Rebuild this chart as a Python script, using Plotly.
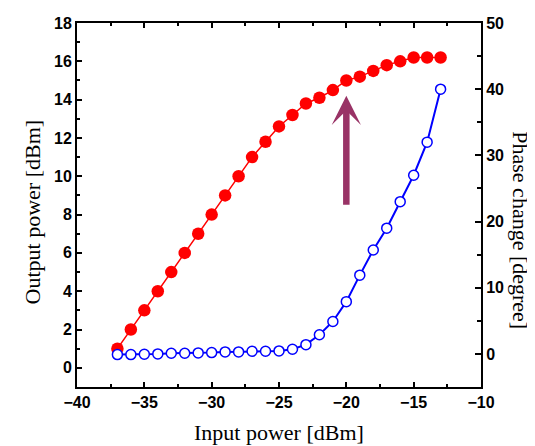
import plotly.graph_objects as go

input_power = [-37, -36, -35, -34, -33, -32, -31, -30, -29, -28, -27, -26, -25,
               -24, -23, -22, -21, -20, -19, -18, -17, -16, -15, -14, -13]
output_power = [1.0, 2.0, 3.0, 4.0, 5.0, 6.0, 7.0, 8.0, 9.0, 10.0, 11.0, 11.8, 12.6,
                13.2, 13.8, 14.1, 14.5, 15.0, 15.2, 15.5, 15.8, 16.0, 16.2, 16.2, 16.2]
phase_change = [-0.1, -0.1, -0.05, 0.0, 0.1, 0.1, 0.15, 0.2, 0.3, 0.3, 0.4, 0.4, 0.45,
                0.7, 1.4, 2.9, 4.9, 7.9, 11.9, 15.7, 19.0, 23.0, 27.0, 32.0, 40.0]
x_ticks = [-40, -35, -30, -25, -20, -15, -10]
y_ticks = [0, 2, 4, 6, 8, 10, 12, 14, 16, 18]
y2_ticks = [0, 10, 20, 30, 40, 50]
arrow_x = -20
arrow_tip = 14.2
arrow_tail = 8.44

tickfont = dict(family="Liberation Sans, Arial", size=16, color="black", weight="bold")
titlefont = dict(family="Liberation Serif, Times New Roman", size=22, color="black")

fig = go.Figure()
fig.add_trace(go.Scatter(
    x=input_power, y=output_power, mode="lines+markers",
    line=dict(color="#FF0000", width=1.5),
    marker=dict(color="#FF0000", size=12.5, symbol="circle"),
    yaxis="y", showlegend=False))
fig.add_trace(go.Scatter(
    x=input_power, y=phase_change, mode="lines+markers",
    line=dict(color="#0000FF", width=2),
    marker=dict(color="white", size=10, symbol="circle",
                line=dict(color="#0000FF", width=1.5)),
    yaxis="y2", showlegend=False))

fig.add_annotation(x=arrow_x, y=arrow_tip, ax=arrow_x, ay=arrow_tail,
                   xref="x", yref="y", axref="x", ayref="y", text="",
                   showarrow=True, arrowhead=3, arrowsize=0.75, arrowwidth=6.5,
                   arrowcolor="#993366")

fig.add_annotation(text="Input power [dBm]", xref="paper", yref="paper",
                   x=0.5, y=-0.125, xanchor="center", yanchor="middle",
                   showarrow=False, font=titlefont)
fig.add_annotation(text="Output power [dBm]", xref="paper", yref="paper",
                   x=-0.111, y=0.48, xanchor="center", yanchor="middle",
                   textangle=-90, showarrow=False, font=titlefont)
fig.add_annotation(text="Phase change [degree]", xref="paper", yref="paper",
                   x=1.097, y=0.43, xanchor="center", yanchor="middle",
                   textangle=90, showarrow=False, font=titlefont)

fig.update_layout(
    width=527, height=438,
    margin=dict(l=69, r=54, t=7, b=59),
    paper_bgcolor="white", plot_bgcolor="white",
    xaxis=dict(range=[-40, -10], tickvals=x_ticks, showgrid=False, zeroline=False,
               showline=True, linecolor="black", linewidth=2, mirror="ticks",
               ticks="inside", ticklen=5, tickwidth=2, tickcolor="black",
               minor=dict(dtick=2.5, ticks="inside", ticklen=3, tickwidth=2, tickcolor="black"),
               tickfont=tickfont),
    yaxis=dict(range=[-1, 18], tickvals=y_ticks, showgrid=False, zeroline=False,
               showline=True, linecolor="black", linewidth=2,
               ticks="inside", ticklen=5, tickwidth=2, tickcolor="black",
               minor=dict(dtick=1, ticks="inside", ticklen=3, tickwidth=2, tickcolor="black"),
               tickfont=tickfont),
    yaxis2=dict(range=[-5, 50], tickvals=y2_ticks, overlaying="y", side="right",
                showgrid=False, zeroline=False,
                showline=True, linecolor="black", linewidth=2,
                ticks="inside", ticklen=6, tickwidth=2, tickcolor="black",
                minor=dict(dtick=5, ticks="inside", ticklen=4, tickwidth=2, tickcolor="black"),
                tickfont=tickfont),
)

fig.write_html("out.html")
